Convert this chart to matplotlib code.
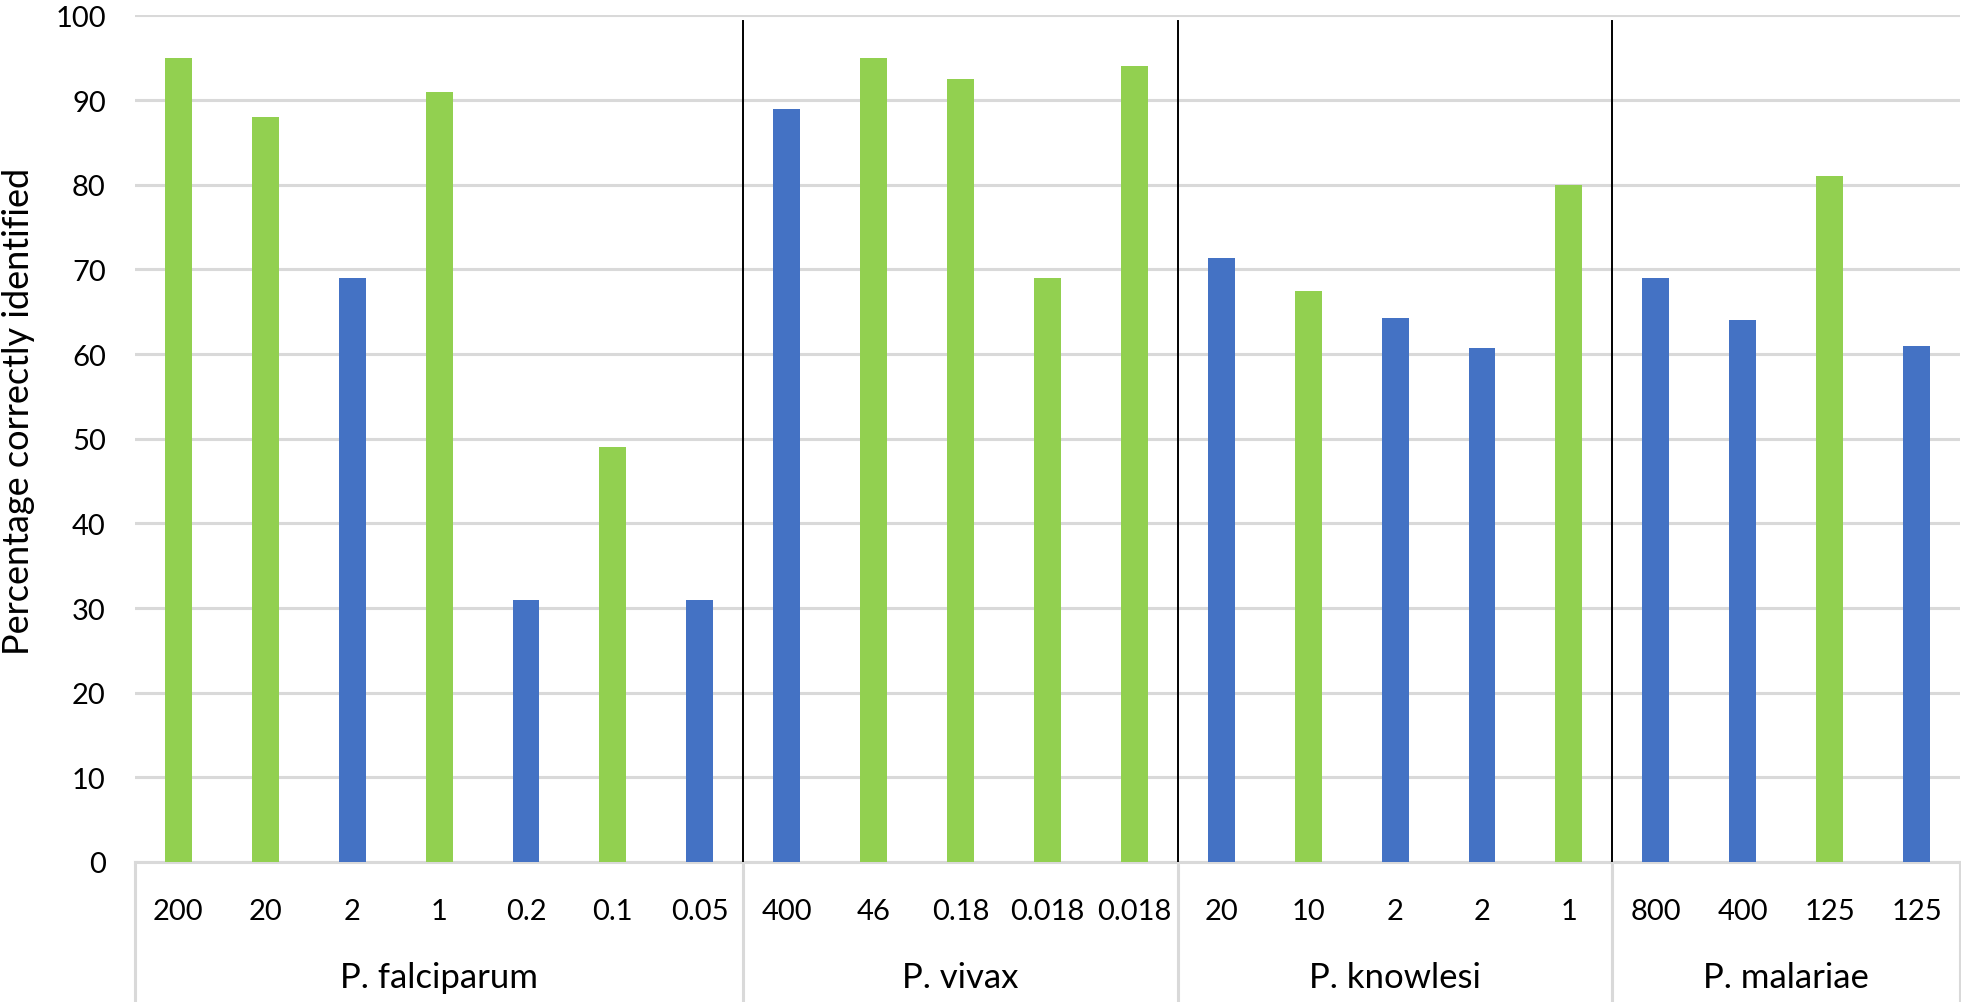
import matplotlib.pyplot as plt
import matplotlib.transforms as mtransforms
import numpy as np

plt.rcParams['font.family'] = ['Lato', 'DejaVu Sans']

# data
species = ['P. falciparum', 'P. vivax', 'P. knowlesi', 'P. malariae']
densities = [['200', '20', '2', '1', '0.2', '0.1', '0.05'],
             ['400', '46', '0.18', '0.018', '0.018'],
             ['20', '10', '2', '2', '1'],
             ['800', '400', '125', '125']]
percent = [95, 88, 69, 91, 31, 49, 31,
           89, 95, 92.5, 69, 94,
           71.4, 67.5, 64.3, 60.7, 80,
           69, 64, 81, 61]
# g = green bar, b = blue bar
bar_kind = ['g', 'g', 'b', 'g', 'b', 'g', 'b',
            'b', 'g', 'g', 'g', 'g',
            'b', 'g', 'b', 'b', 'g',
            'b', 'b', 'g', 'b']

palette = {'g': '#92D050', 'b': '#4472C4'}
grid_c = '#D9D9D9'

labels = [d for grp in densities for d in grp]
x = np.arange(len(percent))

fig = plt.figure(figsize=(19.61, 10.03), dpi=100)
ax = fig.add_axes([0.0688, 0.1396, 0.9307, 0.844])

ax.bar(x, percent, width=0.31, color=[palette[k] for k in bar_kind], zorder=3)

ax.set_xlim(-0.5, len(percent) - 0.5)
ax.set_ylim(0, 100)
ax.set_yticks(np.arange(0, 101, 10))
ax.yaxis.grid(True, color=grid_c, lw=2.2, zorder=0)
ax.set_axisbelow(True)
for s in ['top', 'right', 'left']:
    ax.spines[s].set_visible(False)
ax.spines['bottom'].set_color(grid_c)
ax.spines['bottom'].set_linewidth(2.2)
ax.tick_params(axis='y', length=0, pad=21, labelsize=21)
ax.set_xticks(x, labels)
ax.tick_params(axis='x', length=0, pad=26, labelsize=21)
ax.set_ylabel('Percentage correctly identified', fontsize=26)
ax.yaxis.set_label_coords(-0.055, 0.533)

# group boundaries
sizes = [len(g) for g in densities]
edges = np.concatenate([[0], np.cumsum(sizes)]) - 0.5
trans = mtransforms.blended_transform_factory(ax.transData, ax.transAxes)
for e in edges:
    ax.plot([e, e], [0, -0.166], color=grid_c, lw=2.2, transform=trans, clip_on=False)
for e in edges[1:-1]:
    ax.plot([e, e], [0, 99.4], color='black', lw=1.4, zorder=4)
for i, name in enumerate(species):
    ax.text((edges[i] + edges[i + 1]) / 2, -0.136, name, transform=trans,
            ha='center', va='center', fontsize=25)

fig.savefig('out.png', dpi=100)
